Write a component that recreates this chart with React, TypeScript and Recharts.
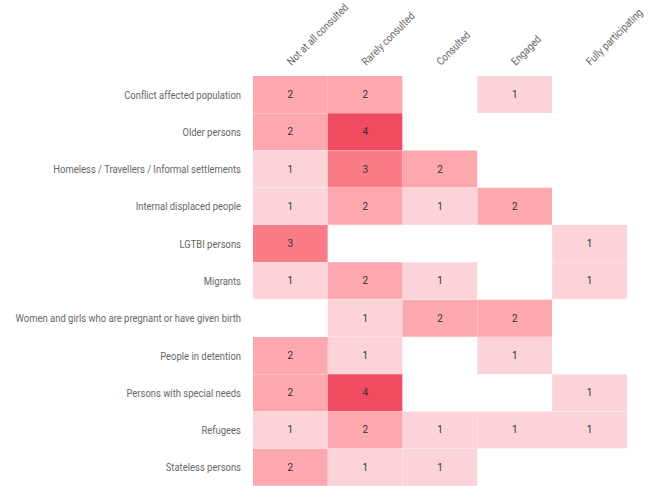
import React from 'react';
import { BarChart, Bar, XAxis, YAxis, Cell, LabelList } from 'recharts';

const groups = [
  'Conflict affected population',
  'Older persons',
  'Homeless / Travellers / Informal settlements',
  'Internal displaced people',
  'LGTBI persons',
  'Migrants',
  'Women and girls who are pregnant or have given birth',
  'People in detention',
  'Persons with special needs',
  'Refugees',
  'Stateless persons',
];

const levels = ['Not at all consulted', 'Rarely consulted', 'Consulted', 'Engaged', 'Fully participating'];

// counts per level, one entry per group (0 = no answer)
const notAtAll = [2, 2, 1, 1, 3, 1, 0, 2, 2, 1, 2];
const rarely = [2, 4, 3, 2, 0, 2, 1, 1, 4, 2, 1];
const consulted = [0, 0, 2, 1, 0, 1, 2, 0, 0, 1, 1];
const engaged = [1, 0, 0, 2, 0, 0, 2, 1, 0, 1, 0];
const fully = [0, 0, 0, 0, 1, 1, 0, 0, 1, 1, 0];

const counts = [notAtAll, rarely, consulted, engaged, fully];
const palette = ['#ffffff', '#fbd3d9', '#fca8ae', '#f97c86', '#f04b60'];

const data = groups.map((name, i) => {
  const row: Record<string, string | number> = { name };
  levels.forEach((l, j) => {
    row[l] = counts[j][i];
  });
  return row;
});

const RowTick = ({ x, y, payload }: any) => (
  <text
    transform={`translate(${x},${y}) scale(0.86,1)`}
    textAnchor="end"
    dy={4}
    fontSize={11}
    fontFamily="Roboto"
    fill="#666"
  >
    {payload.value}
  </text>
);

const ColTick = ({ x, y, payload }: any) => (
  <text
    transform={`translate(${x + 1},${y - 2}) rotate(-45) scale(0.86,1)`}
    textAnchor="start"
    fontSize={11}
    fontFamily="Roboto"
    fill="#666"
  >
    {levels[Math.floor(payload.value)]}
  </text>
);

const App: React.FC = () => {
  return (
    <div style={{ position: 'absolute', left: 0, top: 0, width: 656, height: 486, background: '#fff' }}>
      <BarChart
        width={656}
        height={486}
        data={data}
        layout="vertical"
        barCategoryGap={0}
        margin={{ top: 0, right: 29, bottom: 0, left: 0 }}
      >
        <XAxis
          type="number"
          orientation="top"
          domain={[0, 5]}
          ticks={[0.5, 1.5, 2.5, 3.5, 4.5]}
          height={76}
          axisLine={false}
          tickLine={false}
          tick={<ColTick />}
          interval={0}
        />
        <YAxis
          type="category"
          dataKey="name"
          width={253}
          axisLine={false}
          tickLine={false}
          tickMargin={6}
          tick={<RowTick />}
          interval={0}
        />
        {levels.map((l, j) => (
          <Bar key={l} dataKey={() => 1} stackId="a" isAnimationActive={false}>
            {data.map((d, i) => (
              <Cell key={i} fill={palette[counts[j][i]]} />
            ))}
            <LabelList
              content={(p: any) => {
                const v = counts[j][p.index];
                if (!v) return null;
                return (
                  <text
                    x={p.x + p.width / 2}
                    y={p.y + p.height / 2}
                    dy={3.5}
                    textAnchor="middle"
                    fontSize={10}
                    fontFamily="Roboto"
                    fill="#333"
                  >
                    {v}
                  </text>
                );
              }}
            />
          </Bar>
        ))}
      </BarChart>
    </div>
  );
};

export default App;
